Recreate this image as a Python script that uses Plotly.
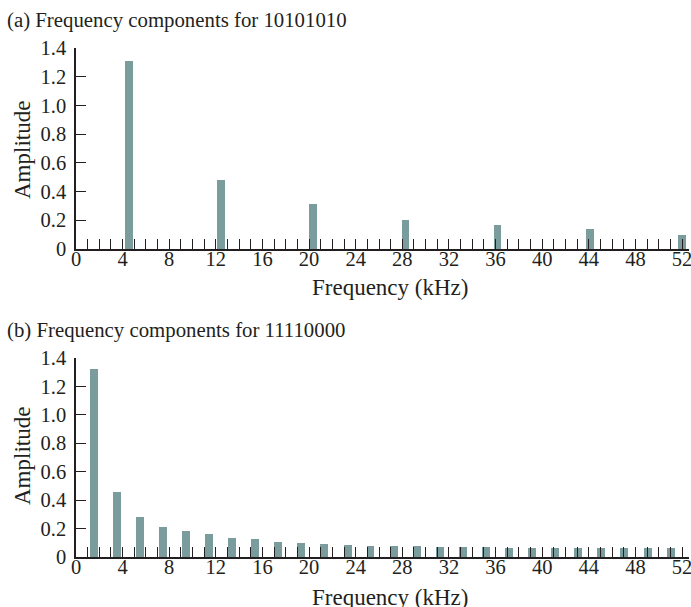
import plotly.graph_objects as go

# Data
freq_a = [4.54, 12.45, 20.32, 28.28, 36.16, 44.1, 52.0]
amp_a = [1.31, 0.48, 0.31, 0.20, 0.167, 0.139, 0.10]

freq_b = [1.53, 3.5, 5.48, 7.46, 9.44, 11.42, 13.4, 15.37, 17.35, 19.3, 21.3, 23.3, 25.27,
          27.25, 29.23, 31.2, 33.18, 35.16, 37.14, 39.12, 41.1, 43.07, 45.05, 47.05, 49.06, 51.08]
amp_b = [1.32, 0.459, 0.278, 0.212, 0.181, 0.160, 0.137, 0.125, 0.109, 0.099, 0.092, 0.085, 0.080,
         0.078, 0.076, 0.073, 0.072, 0.068, 0.066, 0.064, 0.062, 0.062, 0.061, 0.060, 0.060, 0.060]

y_tickvals = [0, 0.2, 0.4, 0.6, 0.8, 1.0, 1.2, 1.4]
y_ticktext = ["0", "0.2", "0.4", "0.6", "0.8", "1.0", "1.2", "1.4"]
x_tickvals = list(range(0, 53, 4))

title_a = "(a) Frequency components for 10101010"
title_b = "(b) Frequency components for 11110000"
x_title = "Frequency (kHz)"
y_title = "Amplitude"

BAR = "#7b9c9c"
INK = "#231f20"
FONT = "Liberation Serif"
FS_TICK = 20.5
FS_AX = 23
FS_TITLE = 20.8

fig = go.Figure()
fig.add_trace(go.Bar(x=freq_a, y=amp_a, width=0.64, marker=dict(color=BAR, line=dict(width=0)),
                     xaxis="x", yaxis="y", showlegend=False))
fig.add_trace(go.Bar(x=freq_b, y=amp_b, width=0.68, marker=dict(color=BAR, line=dict(width=0)),
                     xaxis="x2", yaxis="y2", showlegend=False))

W, H = 691, 607
ml, mr, mt, mb = 76, 2, 48, 50
ph = H - mt - mb
top_dom = [(557 - 249) / ph, 1.0]
bot_dom = [0.0, (557 - 358) / ph]

def xaxis(anchor):
    return dict(anchor=anchor, range=[0, 52.6], tickmode="array", tickvals=x_tickvals,
                ticks="inside", ticklen=10, tickwidth=1.2, tickcolor=INK,
                minor=dict(dtick=1, tick0=0, ticks="inside", ticklen=10, tickwidth=1.2, tickcolor=INK),
                showline=True, linecolor=INK, linewidth=1.5, showgrid=False, zeroline=False,
                automargin=False, ticklabeloverflow="allow", ticklabelstandoff=-9,
                tickfont=dict(family=FONT, size=FS_TICK, color=INK), fixedrange=True)

def yaxis(anchor, dom):
    return dict(anchor=anchor, domain=dom, range=[0, 1.4], tickmode="array",
                tickvals=y_tickvals, ticktext=y_ticktext,
                ticks="inside", ticklen=10, tickwidth=1.2, tickcolor=INK,
                showline=True, linecolor=INK, linewidth=1.5, showgrid=False, zeroline=False,
                automargin=False, ticklabeloverflow="allow", ticklabelstandoff=4,
                tickfont=dict(family=FONT, size=FS_TICK, color=INK), fixedrange=True)

fig.update_layout(
    width=W, height=H, margin=dict(l=ml, r=mr, t=mt, b=mb),
    paper_bgcolor="white", plot_bgcolor="white",
    xaxis=xaxis("y"), yaxis=yaxis("x", top_dom),
    xaxis2=xaxis("y2"), yaxis2=yaxis("x2", bot_dom),
    bargap=0, font=dict(family=FONT, size=FS_TICK, color=INK),
)

def ann(text, x, y, size, xanchor="center", yanchor="middle", angle=0):
    fig.add_annotation(text=text, x=x, y=y, xref="paper", yref="paper", xanchor=xanchor,
                       yanchor=yanchor, textangle=angle, showarrow=False,
                       font=dict(family=FONT, size=size, color=INK))

def px_x(px):
    return (px - ml) / (W - ml - mr)

def px_y(py):
    return (H - mb - py) / ph

ann(title_a, px_x(5), px_y(20), FS_TITLE, xanchor="left")
ann(title_b, px_x(5), px_y(330), FS_TITLE, xanchor="left")
ann(x_title, px_x(390), px_y(287), FS_AX)
ann(x_title, px_x(390), px_y(597), FS_AX)
ann(y_title, px_x(22), px_y(150), FS_AX, angle=-90)
ann(y_title, px_x(22), px_y(456), FS_AX, angle=-90)

fig.write_html("out.html", config={"displayModeBar": False},
               post_script="document.body.style.margin='0px';document.body.style.overflow='hidden';")
